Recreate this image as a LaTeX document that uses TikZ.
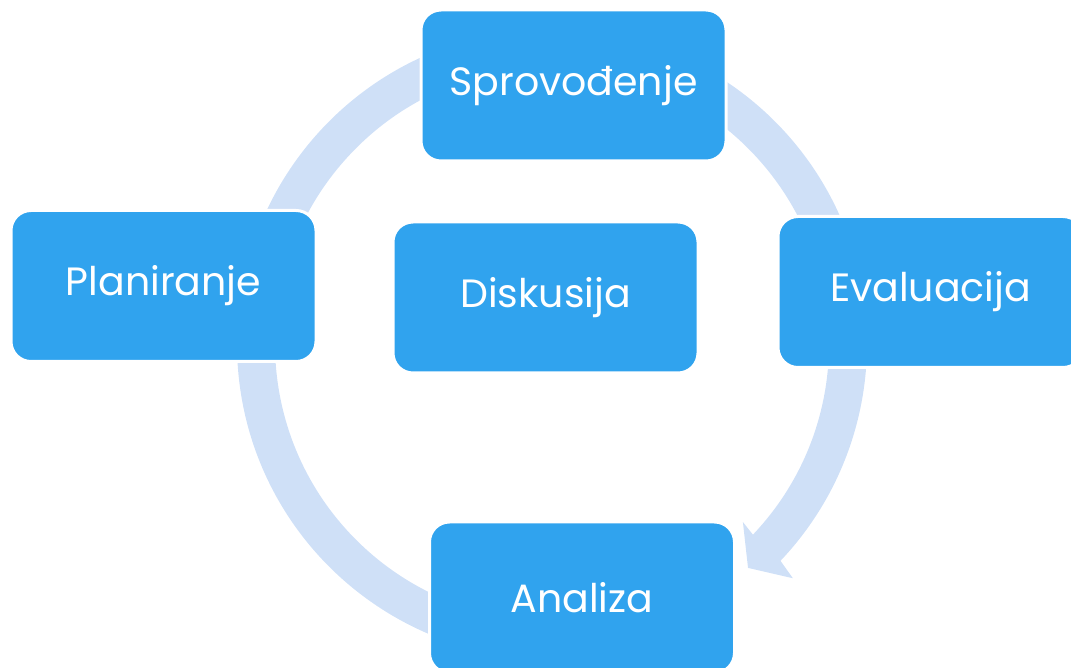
\documentclass[tikz,border=0pt]{standalone}
\usepackage{fontspec}
\setmainfont{Poppins}
\definecolor{boxc}{RGB}{48,163,238}
\definecolor{ringc}{RGB}{207,224,247}
\tikzset{
  stagebox/.style={rectangle, rounded corners=20pt, fill=boxc, draw=white,
    line width=3pt, minimum width=305pt, minimum height=151pt,
    text=white, font=\fontsize{39.5}{42}\selectfont, inner sep=0pt},
  ringshape/.style={fill=ringc, draw=none}
}
\begin{document}
\begin{tikzpicture}[x=1pt,y=1pt]
\useasboundingbox (0,0) rectangle (1071,667);
\clip (0,0) rectangle (1071,667);
\begin{scope}[shift={(552,323)}]
  \fill[ringshape] (275:315) arc[start angle=275, end angle=-43.5, radius=315]
    -- (-44.2:336) -- (-48.8:297.6) -- (-43:261) -- (-43.5:277)
    arc[start angle=-43.5, end angle=275, radius=277] -- cycle;
\end{scope}
\node[stagebox] (sprovodjenje) at (573.5,581.5) {Sprovođenje};
\node[stagebox] (planiranje) at (163.5,381) {Planiranje};
\node[stagebox] (diskusija) at (545.5,369.5) {Diskusija};
\node[stagebox] (evaluacija) at (930.5,375) {Evaluacija};
\node[stagebox] (analiza) at (582,69.5) {Analiza};
\end{tikzpicture}
\end{document}
